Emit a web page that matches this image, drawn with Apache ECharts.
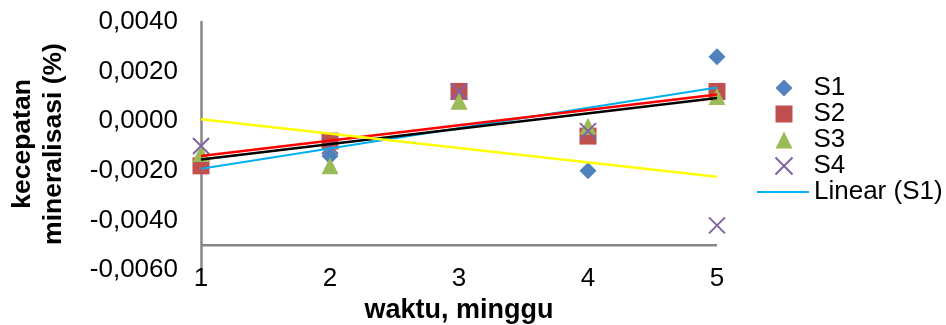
<!DOCTYPE html>
<html>
<head>
<meta charset="utf-8">
<script src="https://cdn.jsdelivr.net/npm/echarts@6/dist/echarts.min.js"></script>
<style>
  html, body { margin: 0; padding: 0; background: #ffffff; }
  #chart { width: 946px; height: 325px; }
</style>
</head>
<body>
<div id="chart"></div>
<script>
// Weeks of incubation (x values)
const weeks = [1, 2, 3, 4, 5];

// Mineralisation rate per sample, one array per series
const s1 = [-0.0018, -0.0014, 0.0012, -0.0020, 0.0026];
const s2 = [-0.0018, -0.0008, 0.0012, -0.0006, 0.0012];
const s3 = [-0.0013, -0.0018, 0.0008, -0.0002, 0.0010];
const s4 = [-0.0010, -0.0010, 0.0012, -0.0004, -0.0042];

const seriesNames = ['S1', 'S2', 'S3', 'S4'];
const trendNames = ['Linear (S1)', 'Linear (S2)', 'Linear (S3)', 'Linear (S4)'];

// Value axis range and the level where the horizontal axis crosses
const yMin = -0.006, yMax = 0.004, yStep = 0.002;
const xCross = -0.005;

const yTitle = 'kecepatan\nmineralisasi (%)';
const xTitle = 'waktu, minggu';

const FONT = "'Liberation Sans', Arial, sans-serif";

// Least-squares straight line through a series, evaluated at the first and last week
function linearFit(ys) {
  const n = ys.length;
  const mx = weeks.reduce((a, b) => a + b, 0) / n;
  const my = ys.reduce((a, b) => a + b, 0) / n;
  let sxy = 0, sxx = 0;
  for (let i = 0; i < n; i++) {
    sxy += (weeks[i] - mx) * (ys[i] - my);
    sxx += (weeks[i] - mx) * (weeks[i] - mx);
  }
  const slope = sxy / sxx;
  const icpt = my - slope * mx;
  const x0 = weeks[0], x1 = weeks[n - 1];
  return [[x0, icpt + slope * x0], [x1, icpt + slope * x1]];
}

const pairs = ys => weeks.map((w, i) => [w, ys[i]]);

const data = [s1, s2, s3, s4];
const markerColors = ['#4F81BD', '#C0504D', '#9BBB59', '#8064A2'];
const crossPath = 'path://M0,0L20,20M20,0L0,20';
const symbols = ['diamond', 'rect', 'triangle', crossPath];
const trendColors = ['#00B0F0', '#FF0000', '#000000', '#FFFF00'];
const trendWidths = [2, 2.5, 2.5, 2.5];

const series = [];

// Horizontal axis line drawn at the crossing level
series.push({
  type: 'line',
  name: 'axis',
  data: [[weeks[0], xCross], [weeks[weeks.length - 1], xCross]],
  symbol: 'none',
  silent: true,
  z: 1,
  lineStyle: { color: '#868686', width: 2.5 },
  animation: false
});

data.forEach((ys, i) => {
  const isCross = i === 3;
  series.push({
    type: 'scatter',
    name: seriesNames[i],
    data: pairs(ys),
    symbol: symbols[i],
    symbolSize: isCross ? 16 : 17,
    z: 2,
    itemStyle: isCross
      ? { color: 'rgba(0,0,0,0)', borderColor: markerColors[i], borderWidth: 2, opacity: 1 }
      : { color: markerColors[i], opacity: 1 },
    animation: false
  });
});

data.forEach((ys, i) => {
  series.push({
    type: 'line',
    name: trendNames[i],
    data: linearFit(ys),
    symbol: 'none',
    z: 3,
    silent: true,
    lineStyle: { color: trendColors[i], width: trendWidths[i] },
    itemStyle: { color: trendColors[i] },
    animation: false
  });
});

const legendText = { fontFamily: FONT, fontSize: 26, color: '#000000', lineHeight: 26 };

const chart = echarts.init(document.getElementById('chart'), null, { renderer: 'canvas' });
chart.setOption({
  backgroundColor: '#ffffff',
  animation: false,
  textStyle: { fontFamily: FONT },
  grid: { left: 201, right: 229, top: 22, bottom: 55, containLabel: false, outerBoundsMode: 'none' },
  legend: [
    {
      // marker entries
      orient: 'vertical',
      left: 774.5,
      top: 75,
      padding: 0,
      itemWidth: 17,
      itemHeight: 17,
      itemGap: 0,
      selectedMode: false,
      data: seriesNames,
      textStyle: Object.assign({ padding: [0, 0, 0, 16] }, legendText)
    },
    {
      // trendline entry
      orient: 'vertical',
      left: 757,
      top: 179,
      padding: 0,
      itemWidth: 52,
      itemHeight: 17,
      itemGap: 0,
      selectedMode: false,
      data: [{ name: 'Linear (S1)', icon: 'path://M0,0L52,0L52,2L0,2Z' }],
      textStyle: legendText
    }
  ],
  // rotated two-line title of the value axis
  graphic: [{
    type: 'text',
    x: 38,
    y: 144,
    rotation: Math.PI / 2,
    silent: true,
    style: {
      text: yTitle,
      fontFamily: FONT,
      fontSize: 26.5,
      fontWeight: 'bold',
      fill: '#000000',
      lineHeight: 31,
      align: 'center',
      verticalAlign: 'middle'
    }
  }],
  xAxis: {
    type: 'value',
    min: weeks[0],
    max: weeks[weeks.length - 1],
    interval: 1,
    name: xTitle,
    nameLocation: 'middle',
    nameGap: 20,
    nameTextStyle: { fontFamily: FONT, fontSize: 27, fontWeight: 'bold', color: '#000000' },
    axisLine: { show: false },
    axisTick: { show: false },
    splitLine: { show: false },
    axisLabel: { fontFamily: FONT, fontSize: 26, color: '#000000', margin: -4 }
  },
  yAxis: {
    type: 'value',
    min: yMin,
    max: yMax,
    interval: yStep,
    axisLine: { show: true, lineStyle: { color: '#868686', width: 2.5 } },
    axisTick: { show: false },
    splitLine: { show: false },
    axisLabel: {
      fontFamily: FONT,
      fontSize: 26,
      color: '#000000',
      margin: 23,
      formatter: v => (Math.abs(v) < 1e-12 ? 0 : v).toFixed(4).replace('.', ',')
    }
  },
  series: series
});
</script>
</body>
</html>
